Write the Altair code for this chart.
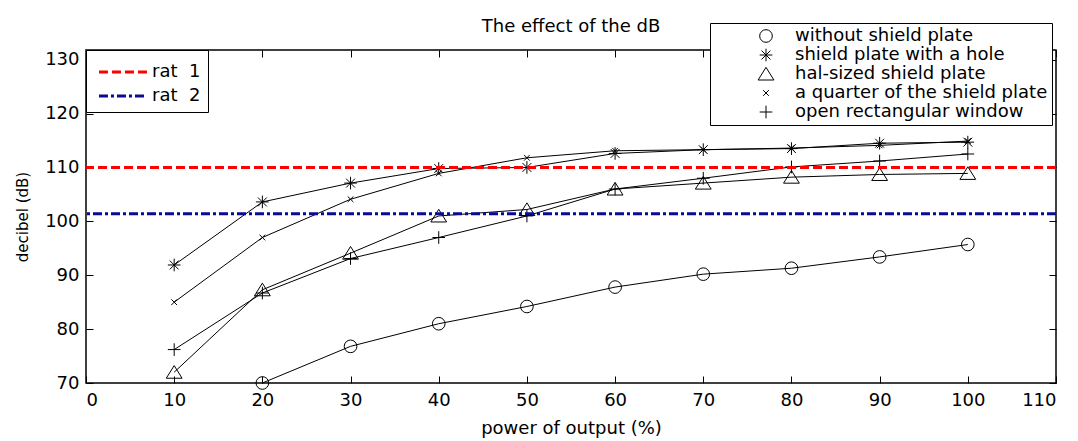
import altair as alt
import pandas as pd

# ---------------- data ----------------
power = [10, 20, 30, 40, 50, 60, 70, 80, 90, 100]
series_names = [
    "without shield plate",
    "shield plate with a hole",
    "hal-sized shield plate",
    "a quarter of the shield plate",
    "open rectangular window",
]
without_plate = [None, 70.0, 76.8, 81.0, 84.2, 87.8, 90.2, 91.3, 93.4, 95.7]
plate_hole = [91.9, 103.6, 107.1, 109.8, 110.0, 112.6, 113.3, 113.5, 114.5, 114.7]
half_plate = [72.0, 87.3, 94.1, 101.0, 102.2, 106.0, 107.1, 108.2, 108.7, 108.9]
quarter_plate = [85.0, 97.0, 104.1, 108.9, 111.8, 113.1, 113.3, 113.6, 114.1, 114.9]
open_window = [76.2, 86.7, 93.1, 97.0, 101.0, 106.0, 108.0, 110.1, 111.2, 112.5]

rat_names = ["rat\u00a0 1", "rat\u00a0 2"]
rat_values = [110.0, 101.4]

x_ticks = [0, 10, 20, 30, 40, 50, 60, 70, 80, 90, 100, 110]
y_ticks = [70, 80, 90, 100, 110, 120, 130]

# ---------------- tables ----------------
rows = []
for name, vals in zip(series_names,
                      [without_plate, plate_hole, half_plate, quarter_plate, open_window]):
    for p, v in zip(power, vals):
        if v is not None:
            rows.append({"power": p, "dB": v, "series": name})
df = pd.DataFrame(rows)
rat_df = pd.DataFrame({"rat": rat_names, "dB": rat_values})

# ---------------- styling ----------------
W, H = 970, 333
FONT = "DejaVu Sans"

shape_paths = [
    "circle",
    "M-1,0L1,0M0,-1L0,1M-0.7,-0.7L0.7,0.7M-0.7,0.7L0.7,-0.7",
    "M0,-1.05L1.25,0.95L-1.25,0.95Z",
    "M-0.45,-0.45L0.45,0.45M-0.45,0.45L0.45,-0.45",
    "M-1,0L1,0M0,-1L0,1",
]

xscale = alt.Scale(domain=[0, 110], nice=False, zero=False)
yscale = alt.Scale(domain=[70, 131.8], nice=False, zero=False)

# main labelled axes
x_main = alt.Axis(values=x_ticks, orient="bottom", ticks=False, domain=False, grid=False,
                  labelFont=FONT, labelFontSize=18, labelColor="black", labelPadding=8,
                  title="power of output (%)", titleFont=FONT, titleFontSize=18,
                  titleFontWeight="normal", titleColor="black", titlePadding=10)
y_main = alt.Axis(values=y_ticks, orient="left", ticks=False, domain=False, grid=False,
                  labelFont=FONT, labelFontSize=18, labelColor="black", labelPadding=7,
                  title="decibel (dB)", titleFont=FONT, titleFontSize=15,
                  titleFontWeight="normal", titleColor="black", titlePadding=14)

def tick_axis(values, orient, offset):
    return alt.Axis(values=values, orient=orient, offset=offset, labels=False, domain=False,
                    grid=False, ticks=True, tickSize=7, tickColor="black", tickWidth=1,
                    title=None)

lines = alt.Chart(df).mark_line(color="black", strokeWidth=1).encode(
    x=alt.X("power:Q", scale=xscale, axis=x_main),
    y=alt.Y("dB:Q", scale=yscale, axis=y_main),
    detail="series:N",
)

shape_legend = alt.Legend(
    title=None, orient="none", legendX=624, legendY=-27,
    strokeColor="black", fillColor="white", padding=4, cornerRadius=0,
    labelFont=FONT, labelFontSize=18, labelColor="black", labelLimit=500,
    symbolSize=160, symbolStrokeColor="black", symbolStrokeWidth=1,
    symbolFillColor="transparent", symbolOffset=43, labelOffset=20, rowPadding=1,
)

points = alt.Chart(df).mark_point(filled=False, color="black", strokeWidth=1, size=160,
                                  opacity=1).encode(
    x=alt.X("power:Q", scale=xscale, axis=tick_axis(x_ticks, "top", -H)),
    y=alt.Y("dB:Q", scale=yscale, axis=tick_axis(y_ticks, "right", -W)),
    shape=alt.Shape("series:N", scale=alt.Scale(domain=series_names, range=shape_paths),
                    legend=shape_legend),
)

ticks2 = alt.Chart(df).mark_point(opacity=0).encode(
    x=alt.X("power:Q", scale=xscale, axis=tick_axis(x_ticks, "bottom", -H)),
    y=alt.Y("dB:Q", scale=yscale, axis=tick_axis(y_ticks, "left", -W)),
)

rat_legend = alt.Legend(
    title=None, orient="none", legendX=0, legendY=0,
    strokeColor="black", fillColor="white", padding=7, cornerRadius=0,
    labelFont=FONT, labelFontSize=18, labelColor="black",
    symbolType="M-1.78,0L1.78,0", symbolSize=729, symbolStrokeWidth=3,
    symbolOffset=15, labelOffset=14, rowPadding=0,
)

rules = alt.Chart(rat_df).mark_rule(strokeWidth=3).encode(
    y=alt.Y("dB:Q", scale=yscale, axis=None),
    color=alt.Color("rat:N", scale=alt.Scale(domain=rat_names, range=["#ff0000", "#0a0a96"]),
                    legend=rat_legend),
    strokeDash=alt.StrokeDash("rat:N",
                              scale=alt.Scale(domain=rat_names, range=[[9, 4], [9, 3, 3, 3]]),
                              legend=rat_legend),
)

chart = alt.layer(lines, points, ticks2, rules).resolve_axis(
    x="independent", y="independent"
).properties(
    width=W, height=H,
    title=alt.TitleParams("The effect of the dB", font=FONT, fontSize=18, fontWeight="normal",
                          color="black", anchor="middle", offset=14, dy=27),
    padding={"left": 86, "top": 50, "right": 22, "bottom": 58},
    autosize=alt.AutoSizeParams(type="none"),
    background="white",
).configure_view(stroke="black", strokeWidth=1.5)

chart.save("out.html", embed_options={"renderer": "svg", "actions": False})
